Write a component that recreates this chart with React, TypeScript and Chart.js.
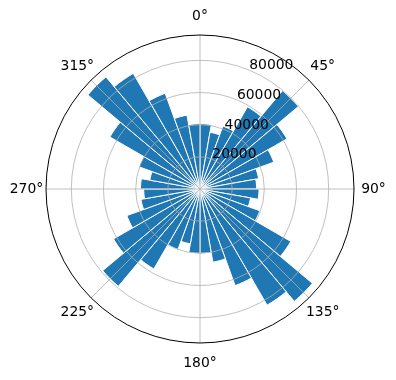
import React, { useEffect, useRef } from "react";
import { Chart, registerables } from "chart.js";

Chart.register(...registerables);

const binLabels: string[] = Array.from({ length: 36 }, (_, i) => `${i * 10}°–${i * 10 + 10}°`);
const counts: number[] = [
  40600, 35800, 41600, 59000, 79800, 62400, 48800, 37000, 35200,
  36700, 31900, 39600, 65200, 91200, 83400, 63900, 46200, 40000,
  40000, 34600, 40000, 57400, 79000, 62100, 48400, 37300, 35000,
  37000, 31700, 40400, 64700, 91000, 83000, 63300, 46600, 40600,
];
const radialTicks: number[] = [20000, 40000, 60000, 80000];
const angleTicks: number[] = [0, 45, 90, 135, 180, 225, 270, 315];
const angleTickLabels: string[] = ["0°", "45°", "90°", "135°", "180°", "225°", "270°", "315°"];
const radialMax = 95760;
const radialLabelAngle = 22.5;

const FONT = '13.9px "DejaVu Sans"';

const overlayPlugin = {
  id: "polarOverlay",
  afterDatasetsDraw(chart: any) {
    const scale = chart.scales.r;
    const ctx = chart.ctx as CanvasRenderingContext2D;
    const cx = scale.xCenter;
    const cy = scale.yCenter;
    const R = scale.getDistanceFromCenterForValue(radialMax);
    const pos = (deg: number, r: number) => {
      const a = (deg * Math.PI) / 180;
      return [cx + r * Math.sin(a), cy - r * Math.cos(a)];
    };
    ctx.save();
    ctx.strokeStyle = "#b0b0b0";
    ctx.lineWidth = 0.8;
    for (const t of radialTicks) {
      const r = scale.getDistanceFromCenterForValue(t);
      ctx.beginPath();
      ctx.arc(cx, cy, r, 0, Math.PI * 2);
      ctx.stroke();
    }
    for (const a of angleTicks) {
      const [x, y] = pos(a, R);
      ctx.beginPath();
      ctx.moveTo(cx, cy);
      ctx.lineTo(x, y);
      ctx.stroke();
    }
    ctx.strokeStyle = "#000000";
    ctx.lineWidth = 1;
    ctx.beginPath();
    ctx.arc(cx, cy, R, 0, Math.PI * 2);
    ctx.stroke();

    ctx.fillStyle = "#000000";
    ctx.font = FONT;
    ctx.textAlign = "left";
    ctx.textBaseline = "alphabetic";
    for (const t of radialTicks) {
      const r = scale.getDistanceFromCenterForValue(t);
      const [x, y] = pos(radialLabelAngle, r);
      ctx.fillText(String(t), x, y - 1);
    }
    ctx.textAlign = "center";
    ctx.textBaseline = "middle";
    angleTicks.forEach((a, i) => {
      const [x, y] = pos(a, R + 19.5);
      ctx.fillText(angleTickLabels[i], x, y + 0.5);
    });
    ctx.restore();
  },
};

export default function App() {
  const ref = useRef<HTMLCanvasElement | null>(null);
  useEffect(() => {
    if (!ref.current) return;
    const chart = new Chart(ref.current, {
      type: "polarArea",
      data: {
        labels: binLabels,
        datasets: [
          {
            data: counts,
            backgroundColor: "#1f77b4",
            borderColor: "#ffffff",
            borderWidth: 1,
          },
        ],
      },
      options: {
        animation: false,
        responsive: false,
        layout: { padding: { left: 46, right: 42, top: 35, bottom: 37 } },
        plugins: { legend: { display: false }, tooltip: { enabled: false } },
        scales: {
          r: {
            min: 0,
            max: radialMax,
            startAngle: 0,
            ticks: { display: false },
            grid: { display: false },
            angleLines: { display: false },
            pointLabels: { display: false },
          },
        },
      },
      plugins: [overlayPlugin],
    });
    return () => chart.destroy();
  }, []);
  return (
    <div style={{ position: "absolute", left: 0, top: 0, width: 396, height: 380, background: "#fff" }}>
      <canvas ref={ref} width={396} height={380} />
    </div>
  );
}
